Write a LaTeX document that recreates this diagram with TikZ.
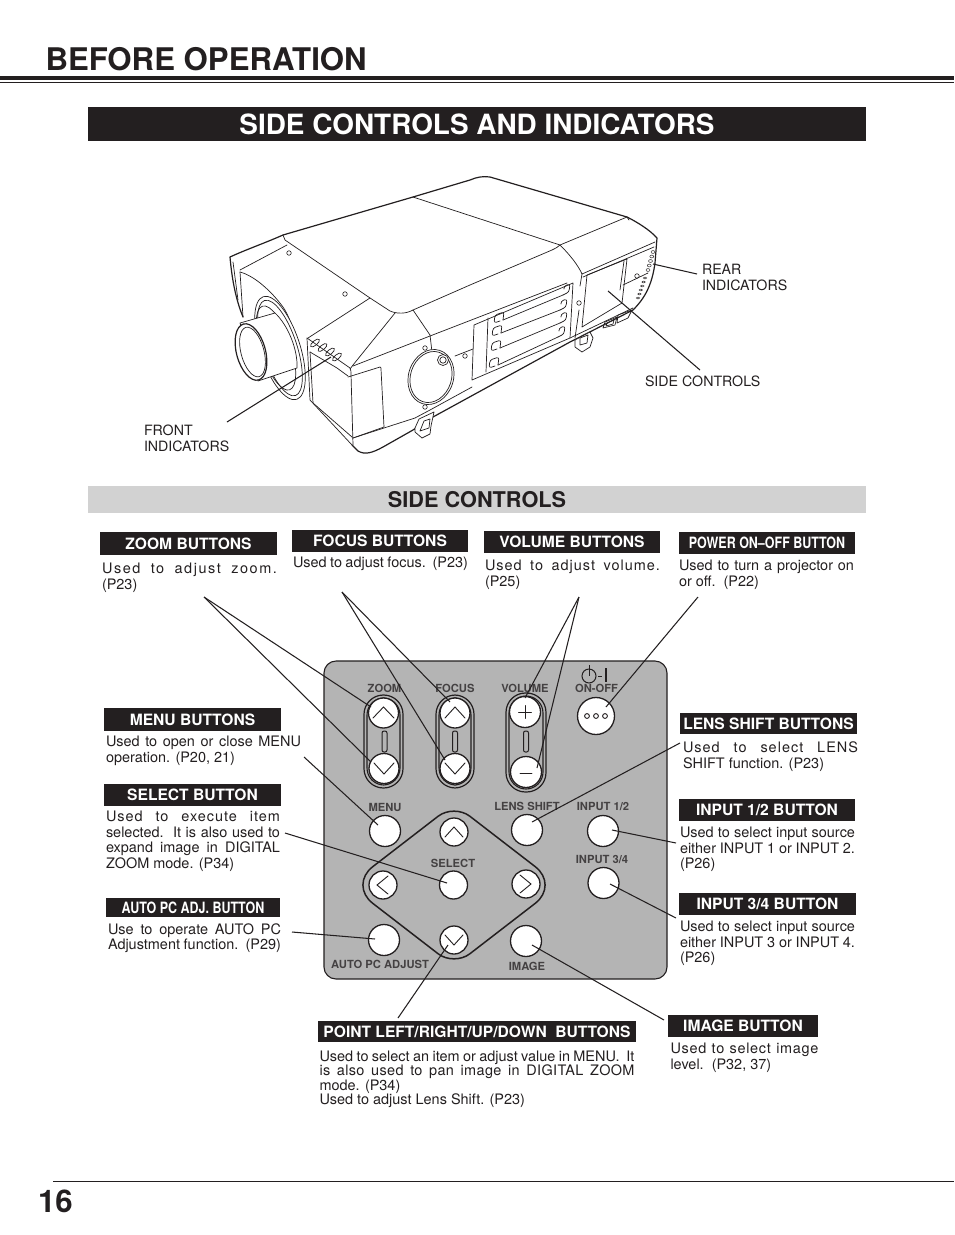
\documentclass[tikz,border=0pt]{standalone}
\usepackage{fontspec}
\setmainfont{TeX Gyre Heros}
\usepackage{graphicx}
\definecolor{pgray}{HTML}{B4B4B4}
\definecolor{bgray}{HTML}{D2D2D2}
\definecolor{ink}{HTML}{231F20}
\newcommand{\lsp}[2][9]{{\addfontfeature{LetterSpace=#1}#2}}
\hyphenpenalty=10000
\exhyphenpenalty=10000
\tikzset{
 every node/.style={inner sep=0pt,outer sep=0pt,text=ink},
 lead/.style={draw=ink,line width=1.05pt},
 proj/.style={draw=ink,line width=0.7pt,line join=round,line cap=round},
 projb/.style={draw=ink,line width=1.2pt,line join=round,line cap=round},
 hole/.style={draw=ink,line width=0.6pt,fill=white,circle,minimum size=4.5pt},
 labelbox/.style={fill=ink,text=white,font=\bfseries\fontsize{15.6}{16}\selectfont,anchor=center},
 desc/.style={anchor=north west,align=justify,font=\fontsize{14.45}{15.5}\selectfont,text=ink},
 plain/.style={anchor=west,align=left,font=\fontsize{14.2}{16}\selectfont},
 btn/.style={circle,draw=ink,line width=1.3pt,fill=white},
 plab/.style={font=\bfseries\fontsize{11.2}{11}\selectfont,text=ink!85},
 sym/.style={draw=ink,line width=0.9pt,line cap=round,line join=miter},
 cap1/.style={draw=ink,line width=1.2pt,fill=pgray,rounded corners=19.4pt}
}
\newcommand{\lbox}[6]{\fill[ink] (#2,#3) rectangle (#4,#5);
 \node[labelbox] (#1) at ({(#2+#4)/2},{(#3+#5)/2}) {#6};}
\begin{document}
\begin{tikzpicture}[x=1pt,y=-1pt]
\useasboundingbox (0,0) rectangle (954,1235);
\fill[white] (0,0) rectangle (954,1235);
% header
\node[anchor=base west,font=\bfseries\fontsize{31.2}{34}\selectfont] (h1) at (45.5,70) {BEFORE OPERATION};
\fill[ink] (0,76) rectangle (954,80);
\fill[ink] (0,81.7) rectangle (954,82.6);
\fill[ink] (88,107) rectangle (866,141);
\node[anchor=center,text=white,font=\bfseries\fontsize{27.9}{30}\selectfont] (h2) at (477,124.5) {SIDE CONTROLS AND INDICATORS};
\fill[bgray] (88,486) rectangle (866,513);
\node[anchor=center,font=\bfseries\fontsize{21.7}{24}\selectfont] (h3) at (477,500) {SIDE CONTROLS};
% footer
\draw[ink,line width=0.9pt] (53,1181.5) -- (954,1181.5);
\node[anchor=base west,font=\bfseries\fontsize{31.2}{34}\selectfont] (pg) at (38,1212.5) {16};
% projector outline
\draw[projb] (243,317) .. controls (236,300) and (232,280) .. (230,257) .. controls (245,250) and (265,243) .. (283,235) -- (413,197) -- (470,180) .. controls (477,177) and (483,176) .. (490,177) -- (627,217) .. controls (637,222) and (650,230) .. (657,238) -- (655,263) .. controls (652,285) and (645,298) .. (633,310) -- (570,342) -- (433,417) -- (413,430) -- (383,447) .. controls (372,453) and (365,455) .. (358,451) -- (352,445);
\draw[proj] (283,235) -- (285,240) -- (370,298) -- (390,311) .. controls (397,314) and (406,314) .. (413,310) -- (470,285) -- (552,250) .. controls (556,248) and (558,247) .. (560,245);
\draw[proj] (413,197) -- (560,245) -- (627,217) -- (629,220);
\draw[proj] (560,245) .. controls (570,255) and (578,265) .. (582,274) -- (655,242);
\draw[proj] (583,277) -- (654,247);
\draw[proj] (240,270) -- (287,245);
\draw[proj] (240,272) .. controls (255,276) and (272,292) .. (283,307) .. controls (292,320) and (298,345) .. (302,370);
\draw[proj] (240,272) -- (243,317);
\draw[proj] (233,262) -- (238,300);
\draw[proj] (308,338) -- (370,298);
\draw[proj] (307,338) -- (350,368) .. controls (351,370) and (351,372) .. (351,374) -- (353,445);
\draw[proj] (310,352) -- (337,368) -- (348,376);
\draw[proj] (395,313) -- (353,365) -- (350,369);
\draw[proj] (353,366) -- (430,336) -- (567,283);
\draw[proj] (413,310) -- (430,335) -- (432,352);
\draw[proj] (455,356) -- (473,349);
\draw[proj] (307,338) -- (310,400) -- (352,445);
\draw[proj] (310,352) -- (313,403) -- (352,437);
\draw[proj] (348,377) -- (380,367) .. controls (381,367) and (381,368) .. (381,369) -- (384,427) -- (353,438);
\draw[proj] (353,438) -- (415,418) -- (430,410) -- (472,387);
\draw[proj] (570,338) -- (633,308);
\draw[proj] (582,274) -- (580,286);
\draw[proj] (579,310) -- (575,338);
% lens ring and barrel
\draw[proj,fill=white,rotate around={18:(280,348)}] (280,348) ellipse (20pt and 54pt);
\draw[proj,rotate around={18:(280,348)}] (280,348) ellipse (17pt and 50pt);
\draw[proj,rotate around={18:(276,348)}] (276,348) ellipse (15pt and 44pt);
\draw[proj,fill=white] (240,323) -- (275,313) .. controls (288,325) and (298,350) .. (297,368) -- (258,381) -- cycle;
\draw[projb,fill=white,rotate around={15:(251,352)}] (251,352) ellipse (14.5pt and 29pt);
\draw[proj,fill=white,rotate around={15:(252.5,352)}] (252.5,352) ellipse (11.5pt and 25.5pt);
% dial
\draw[proj,fill=white,rotate around={-18:(431,377)}] (431,377) ellipse (22.5pt and 28pt);
\draw[proj,rotate around={-18:(431,377)}] (431,377) ellipse (20.5pt and 26pt);
\draw[proj,fill=white] (443,360) circle (5.5pt);
\draw[proj] (443,360) circle (3.2pt);
% holes
\foreach \n/\p in {a/{(289,253)},b/{(345,294)},c/{(425,348)},d/{(465,356)},e/{(425,407)},f/{(579,303)},g/{(637,276)}}
 \node[hole] (hole\n) at \p {};
% front vents
\foreach \x/\y in {315/343,322.5/347.5,330/352,337/357}
 \draw[proj,rotate around={40:(\x,\y)}] (\x,\y) ellipse (5.5pt and 2.3pt);
% front panel foot
\draw[proj,fill=white] (415,428) -- (419,419) -- (434,412) -- (431,426) -- (430,434) -- (422,438) -- (415,432) -- cycle;
\draw[proj] (420,431) -- (424,421) -- (430,419) -- (429,428) -- cycle;
% grille
\draw[proj] (474,325) -- (573,283) -- (570,338) -- (472,380) -- cycle;
\draw[proj] (488,318) -- (486,372);
\foreach \ax/\ay/\bx/\by in {503/320/563/295,501/333/560/310,500/348/560/323,498/365/558/337}{
 \draw[proj] (\ax,\ay) -- (\bx,\by);
 \draw[proj,rounded corners=2.5pt] (\ax,\ay) -- (\ax+1,\ay-8) -- (\ax-8,\ay-5) -- (\ax-9,\ay+3) -- (\ax-3,\ay+1);
 \draw[proj,rounded corners=2.5pt] (\bx,\by) -- (\bx+6,\by-3) -- (\bx+7,\by-11) -- (\bx+1,\by-9) -- (\bx+1,\by-6);
}
% side panel
\draw[proj] (587,275) -- (627,259) -- (622,303) -- (582,327) -- cycle;
\draw[proj] (624,261) -- (620,290);
\draw[proj] (623,285) -- (648,273);
% rear small
\draw[proj] (605,322) -- (617,317) -- (615,325) -- (603,328) -- cycle;
\draw[proj] (607,323) -- (614,320) -- (613,324) -- (606,326) -- cycle;
\draw[proj] (618,315) -- (632,310) -- (628,318) -- (617,323) -- cycle;
% rear foot
\draw[proj,fill=white] (575,340) -- (590,332) -- (593,338) -- (590,347) -- (582,352) -- (575,347) -- cycle;
\draw[proj] (580,338) -- (588,335) -- (587,343) -- (580,345) -- cycle;
% rear vents
\foreach \i in {0,1,2,3,4}
 \draw[proj,line width=0.5pt] ({653-\i*1.25},{252+\i*4.5}) ellipse (2pt and 1.4pt);
\foreach \i in {0,1,2,3,4,5}
 \draw[proj,line width=0.5pt] ({645-\i*1.4},{278+\i*4}) ellipse (1.8pt and 1pt);
% leaders over projector
\coordinate (rearA) at (697,274);
\coordinate (rearB) at (653,264);
\coordinate (sideA) at (700,370);
\coordinate (sideB) at (608,291);
\coordinate (frontA) at (227,422);
\coordinate (frontB) at (331,357);
\draw[lead] (rearA) -- (rearB);
\draw[lead] (sideA) -- (sideB);
\draw[lead] (frontA) -- (frontB);
\node[plain] (rear) at (702,277.5) {REAR\\INDICATORS};
\node[plain] (sidec) at (645,381) {SIDE CONTROLS};
\node[plain] (front) at (144,438.5) {FRONT\\INDICATORS};
% control panel
\draw[draw=ink,line width=1.1pt,fill=pgray,rounded corners=12pt] (324,661) rectangle (667,979);
% capsules
\draw[cap1] (364,695) rectangle (403,788);
\draw[draw=ink,line width=1.1pt,rounded corners=17pt] (367,698) rectangle (400,785);
\draw[cap1] (436,695) rectangle (474,788);
\draw[draw=ink,line width=1.1pt,rounded corners=17pt] (439,698) rectangle (471,785);
\draw[cap1] (506,693) rectangle (546,792);
\draw[draw=ink,line width=1.1pt,rounded corners=17pt] (509,696) rectangle (543,789);
\foreach \x in {384.5,455,526}
 \draw[draw=ink,line width=1pt,rounded corners=2pt] (\x-2.5,731) rectangle (\x+2.5,752);
% diamond
\draw[draw=ink,line width=1.5pt] (506.5,844.5) [rounded corners=30pt] -- (559,885) [rounded corners=20pt] -- (454,966) [rounded corners=30pt] -- (349,885) [rounded corners=20pt] -- (454,804) [sharp corners] -- cycle;
% buttons
\node[btn,minimum size=30pt] (zu) at (383.5,713) {};
\node[btn,minimum size=30pt] (zd) at (384,768.5) {};
\node[btn,minimum size=30pt] (fu) at (455,713) {};
\node[btn,minimum size=30pt] (fd) at (455,768.5) {};
\node[btn,minimum size=31pt] (vp) at (525,712) {};
\node[btn,minimum size=31pt] (vm) at (526,772) {};
\node[btn,minimum size=37pt] (pw) at (596,716) {};
\node[btn,minimum size=31pt] (mn) at (385,831) {};
\node[btn,minimum size=31pt] (ls) at (527,830) {};
\node[btn,minimum size=31pt] (i12) at (603,831) {};
\node[btn,minimum size=31pt] (i34) at (603.5,883) {};
\node[btn,minimum size=28pt] (sl) at (453.5,885) {};
\node[btn,minimum size=28pt] (up) at (454,832) {};
\node[btn,minimum size=28pt] (lf) at (383,885) {};
\node[btn,minimum size=28pt] (rt) at (526,884) {};
\node[btn,minimum size=28pt] (dn) at (454,940) {};
\node[btn,minimum size=31pt] (ap) at (384,940) {};
\node[btn,minimum size=31pt] (im) at (526,941) {};
% symbols
\draw[sym] (373,718) -- (383.5,707) -- (394,718);
\draw[sym] (374,763) -- (384,774) -- (394,763);
\draw[sym] (445,718) -- (455,707) -- (465,718);
\draw[sym] (445,763) -- (455,774) -- (465,763);
\draw[sym] (518.5,712) -- (531.5,712) (525,705.5) -- (525,718.5);
\draw[sym] (520,773) -- (532,773);
\foreach \x in {587,596,605} \draw[draw=ink,line width=0.9pt] (\x,716) circle (2.4pt);
\draw[sym] (445,837) -- (454,827) -- (463,837);
\draw[sym] (445,935) -- (454,945) -- (463,935);
\draw[sym] (388,876) -- (377,885) -- (388,894);
\draw[sym] (520,875) -- (531,884) -- (520,893);
% power symbol
\draw[draw=ink,line width=1pt] (589,676) circle (7pt);
\draw[draw=ink,line width=1pt] (589,665) -- (589,676);
\draw[draw=ink,line width=0.8pt] (598,676) -- (602,676);
\draw[draw=ink,line width=1.2pt] (606,668) -- (606,682);
% panel labels
\node[plab] (lz) at (384.5,688.5) {ZOOM};
\node[plab] (lf2) at (455,688.5) {FOCUS};
\node[plab] (lv) at (525,688.5) {VOLUME};
\node[plab] (lo) at (596.5,688.5) {ON-OFF};
\node[plab] (lm) at (385,807.5) {MENU};
\node[plab] (ll) at (527,806.5) {LENS SHIFT};
\node[plab] (l12) at (603,806.5) {INPUT 1/2};
\node[plab] (l34) at (602,859.5) {INPUT 3/4};
\node[plab] (ls2) at (453,863.5) {SELECT};
\node[plab] (la) at (380,964.5) {AUTO PC ADJUST};
\node[plab] (lim) at (527,966.5) {IMAGE};
% connectors
\coordinate (zA) at (204,597);
\coordinate (fA) at (342,592);
\coordinate (vA) at (579,597);
\coordinate (pA) at (698,597);
\coordinate (mA) at (304,757);
\coordinate (sA) at (285,833);
\coordinate (aA) at (292,932);
\coordinate (lA) at (680,743);
\coordinate (iA) at (676,843);
\coordinate (jA) at (676,918);
\coordinate (imA) at (664,1020);
\coordinate (dA) at (398,1018);
\draw[lead] (zA) -- (371,707);
\draw[lead] (zA) -- (371,762);
\draw[lead] (fA) -- (450,702);
\draw[lead] (fA) -- (445,760);
\draw[lead] (vA) -- (525,698);
\draw[lead] (vA) -- (537,768);
\draw[lead] (pA) -- (606,707);
\draw[lead] (mA) -- (378,825);
\draw[lead] (sA) -- (447,883);
\draw[lead] (aA) -- (375,939);
\draw[lead] (lA) -- (532,822);
\draw[lead] (iA) -- (612,830);
\draw[lead] (jA) -- (610,884);
\draw[lead] (imA) -- (532,945);
\draw[lead] (dA) -- (448,945);
% label boxes
\lbox{b1}{100}{532}{277}{555}{ZOOM BUTTONS}
\lbox{b2}{292}{530}{468}{552}{FOCUS BUTTONS}
\lbox{b3}{484}{531}{660}{553}{VOLUME BUTTONS}
\lbox{b4}{679}{532}{855}{554}{\scalebox{0.8}[1]{POWER ON–OFF BUTTON}}
\lbox{b5}{104}{708}{281}{731}{MENU BUTTONS}
\lbox{b6}{104}{784}{281}{806}{SELECT BUTTON}
\lbox{b7}{106}{898}{280}{917}{\scalebox{0.8}[1]{AUTO PC ADJ. BUTTON}}
\lbox{b8}{680}{713}{857}{734}{LENS SHIFT BUTTONS}
\lbox{b9}{679}{799}{855}{821}{INPUT 1/2 BUTTON}
\lbox{b10}{679}{893}{856}{915}{INPUT 3/4 BUTTON}
\lbox{b11}{318}{1021}{636}{1042}{POINT LEFT/RIGHT/UP/DOWN~~BUTTONS}
\lbox{b12}{668}{1015}{818}{1037}{IMAGE BUTTON}
% descriptions
\node[desc,text width=175pt] (d1) at (102,563) {\lsp[11]{Used to adjust zoom.}\linebreak (P23)};
\node[desc,text width=175pt] (d2) at (293,557) {Used to adjust focus.~~(P23)};
\node[desc,text width=175pt] (d3) at (485,560) {\lsp[7]{Used to adjust volume.}\linebreak (P25)};
\node[desc,text width=175pt] (d4) at (679,560) {Used to turn a projector on\linebreak or off.~~(P22)};
\node[desc,text width=195pt] (d5) at (106,736) {Used to open or close MENU\linebreak operation. (P20, 21)};
\node[desc,text width=174pt] (d6) at (106,811) {\lsp[7]{Used to execute item}\linebreak selected.~~It is also used to\linebreak expand image in DIGITAL\linebreak ZOOM mode. (P34)};
\node[desc,text width=173pt] (d7) at (108,923.5) {Use to operate AUTO PC\linebreak Adjustment function.~~(P29)};
\node[desc,text width=175pt] (d8) at (683,742) {\lsp[7]{Used to select LENS}\linebreak SHIFT function. (P23)};
\node[desc,text width=175pt] (d9) at (680,827) {Used to select input source\linebreak either INPUT 1 or INPUT 2.\linebreak (P26)};
\node[desc,text width=175pt] (d10) at (680,921) {Used to select input source\linebreak either INPUT 3 or INPUT 4.\linebreak (P26)};
\node[desc,text width=148pt] (d11) at (670.5,1043) {\lsp[5]{Used to select image}\linebreak level.~~(P32, 37)};
\node[desc,text width=315pt,font=\fontsize{14.45}{14.3}\selectfont] (d12) at (319.5,1051) {Used to select an item or adjust value in MENU.~~It\linebreak \lsp[2.5]{is also used to pan image in DIGITAL ZOOM}\linebreak mode. (P34)\\Used to adjust Lens Shift. (P23)};
\end{tikzpicture}
\end{document}
